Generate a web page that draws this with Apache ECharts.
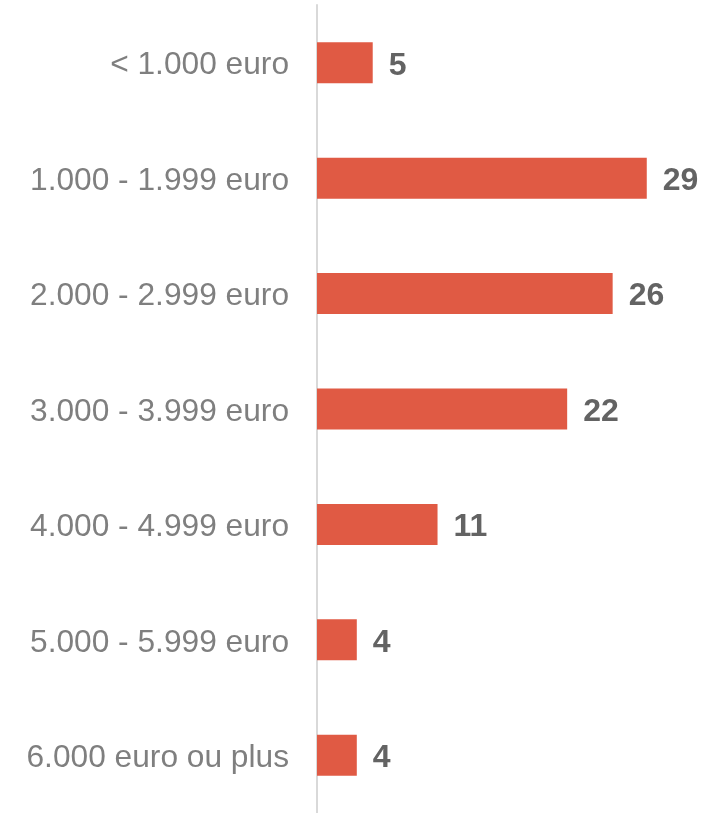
<!DOCTYPE html>
<html>
<head>
<meta charset="utf-8">
<script src="https://cdn.jsdelivr.net/npm/echarts@6/dist/echarts.min.js"></script>
<style>
  html, body { margin: 0; padding: 0; background: #fff; }
  #chart { width: 724px; height: 813px; }
</style>
</head>
<body>
<div id="chart"></div>
<script>
// income brackets, top to bottom
const categories = [
  '< 1.000 euro',
  '1.000 - 1.999 euro',
  '2.000 - 2.999 euro',
  '3.000 - 3.999 euro',
  '4.000 - 4.999 euro',
  '5.000 - 5.999 euro',
  '6.000 euro ou plus'
];
// bar lengths (labels show them rounded)
const values = [4.9, 29, 26, 22, 10.6, 3.5, 3.5];
const valueLabels = ['5', '29', '26', '22', '11', '4', '4'];

const fontFamily = '"Liberation Sans", Arial, sans-serif';
const chart = echarts.init(document.getElementById('chart'));

chart.setOption({
  animation: false,
  grid: {
    left: 317,
    top: 5,
    width: 398,
    height: 813
  },
  xAxis: {
    type: 'value',
    min: 0,
    max: 35,
    show: false
  },
  yAxis: {
    type: 'category',
    inverse: true,
    data: categories,
    axisTick: { show: false },
    axisLine: {
      lineStyle: { color: '#d9d9d9', width: 2 }
    },
    axisLabel: {
      margin: 28,
      formatter: (v) => '{c|' + v + '}',
      rich: {
        c: {
          color: '#7f7f7f',
          fontSize: 31.7,
          fontFamily: fontFamily,
          padding: [6, 0, 0, 0]
        }
      }
    },
    splitLine: { show: false }
  },
  series: [
    {
      type: 'bar',
      data: values,
      barWidth: 41,
      itemStyle: { color: '#e05a44' },
      label: {
        show: true,
        position: 'right',
        distance: 16,
        offset: [0, 3],
        color: '#636363',
        fontSize: 32,
        fontWeight: 'bold',
        fontFamily: fontFamily,
        formatter: (p) => valueLabels[p.dataIndex]
      }
    }
  ]
});
</script>
</body>
</html>
